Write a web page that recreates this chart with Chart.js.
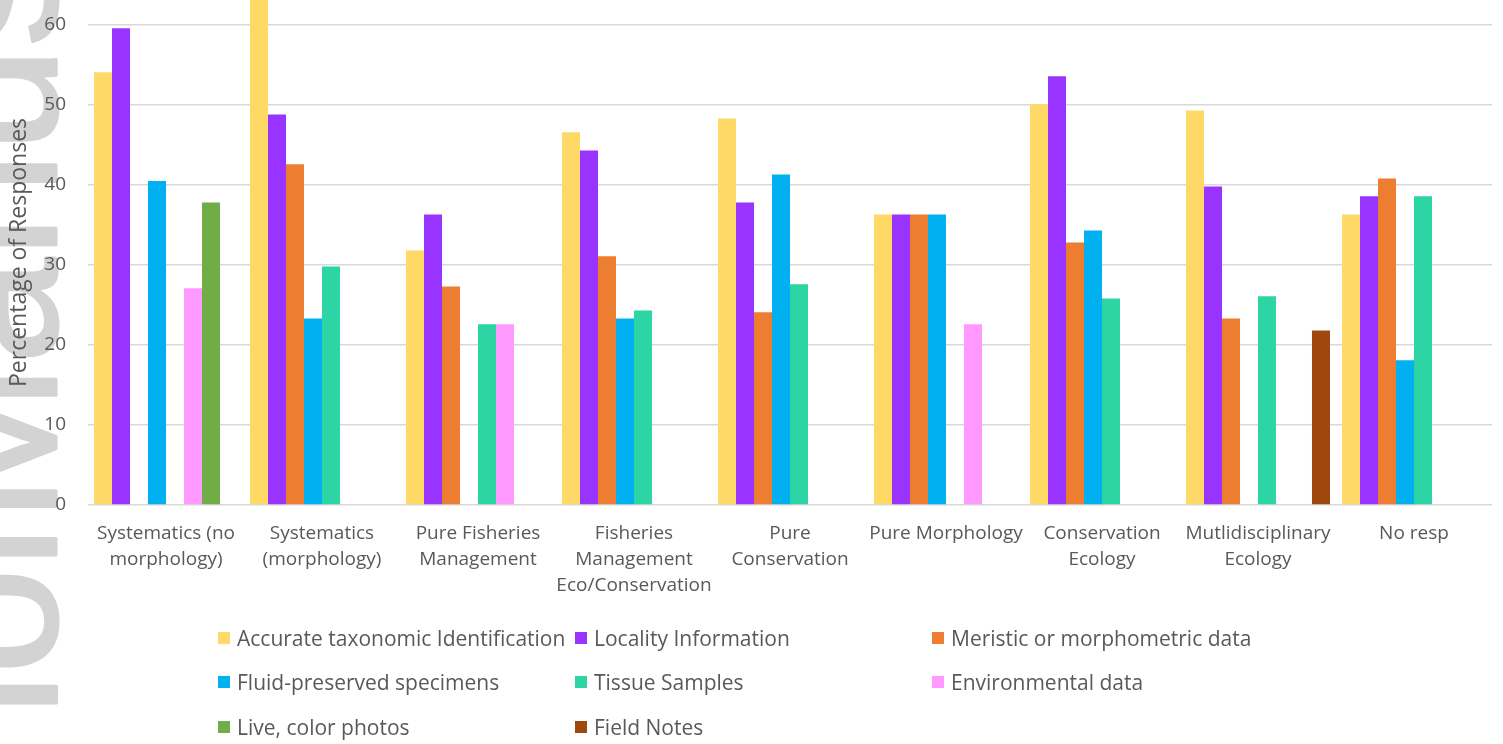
<!DOCTYPE html>
<html>
<head>
<meta charset="utf-8">
<script src="https://cdn.jsdelivr.net/npm/chart.js@4.4.1/dist/chart.umd.min.js"></script>
<style>
  html, body { margin: 0; padding: 0; background: #fff; }
  #wrap { position: relative; width: 1503px; height: 744px; overflow: hidden; }
  #legend { position: absolute; left: 0; top: 0; width: 100%; height: 100%; pointer-events: none; }
  .item { position: absolute; height: 26px; line-height: 26px; display: flex; align-items: center;
          font: 21px "Open Sans"; color: #595959; white-space: nowrap; }
  .item .box { width: 12px; height: 12px; margin-right: 7px; }
</style>
</head>
<body>
<div id="wrap">
  <canvas id="myChart" width="1503" height="744"></canvas>
  <div id="legend"></div>
</div>
<script>
// respondent groups along the x axis (multi-line labels)
const categories = [
  ['Systematics (no', 'morphology)'],
  ['Systematics', '(morphology)'],
  ['Pure Fisheries', 'Management'],
  ['Fisheries', 'Management', 'Eco/Conservation'],
  ['Pure', 'Conservation'],
  ['Pure Morphology'],
  ['Conservation', 'Ecology'],
  ['Mutlidisciplinary', 'Ecology'],
  ['No resp']
];

const seriesNames = [
  'Accurate taxonomic Identification',
  'Locality Information',
  'Meristic or morphometric data',
  'Fluid-preserved specimens',
  'Tissue Samples',
  'Environmental data',
  'Live, color photos',
  'Field Notes'
];

const seriesColors = ['#FFD966', '#9933FF', '#ED7D31', '#00B0F0', '#2DD4A4', '#FF99FF', '#70AD47', '#9E480E'];

// percentage of responses per group
const taxonomicId    = [54.1, 66.0, 31.8, 46.6, 48.3, 36.3, 50.1, 49.3, 36.3];
const localityInfo   = [59.6, 48.8, 36.3, 44.3, 37.8, 36.3, 53.6, 39.8, 38.6];
const meristicData   = [0, 42.6, 27.3, 31.1, 24.1, 36.3, 32.8, 23.3, 40.8];
const fluidSpecimens = [40.5, 23.3, 0, 23.3, 41.3, 36.3, 34.3, 0, 18.1];
const tissueSamples  = [0, 29.8, 22.6, 24.3, 27.6, 0, 25.8, 26.1, 38.6];
const environmental  = [27.1, 0, 22.6, 0, 0, 22.6, 0, 0, 0];
const livePhotos     = [37.8, 0, 0, 0, 0, 0, 0, 0, 0];
const fieldNotes     = [0, 0, 0, 0, 0, 0, 0, 21.8, 0];

const yTicks = [0, 10, 20, 30, 40, 50, 60];

const seriesValues = [taxonomicId, localityInfo, meristicData, fluidSpecimens,
                      tissueSamples, environmental, livePhotos, fieldNotes];

const textColor = '#595959';
const fontFamily = '"Open Sans", sans-serif';

// faint rotated "Author Manuscript" stamp behind the plot, each word placed on its own
const watermark = {
  id: 'watermark',
  beforeDraw(chart) {
    const ctx = chart.ctx;
    ctx.save();
    ctx.font = '190px "Liberation Sans"';
    ctx.fillStyle = '#d3d3d3';
    ctx.strokeStyle = '#d3d3d3';
    ctx.lineWidth = 3;
    ctx.lineJoin = 'round';
    const words = [['Author', 505 + ctx.measureText('Author').width], ['Manuscript', 522]];
    words.forEach(([word, y]) => {
      ctx.save();
      ctx.translate(56, y);
      ctx.rotate(-Math.PI / 2);
      ctx.fillText(word, 0, 0);
      ctx.strokeText(word, 0, 0);
      ctx.restore();
    });
    ctx.restore();
  }
};

const datasets = seriesNames.map((name, i) => ({
  label: name,
  data: seriesValues[i],
  backgroundColor: seriesColors[i],
  borderWidth: 0,
  categoryPercentage: 0.923,
  barPercentage: 1
}));

new Chart(document.getElementById('myChart').getContext('2d'), {
  type: 'bar',
  data: { labels: categories, datasets: datasets },
  plugins: [watermark],
  options: {
    responsive: false,
    animation: false,
    layout: { padding: { top: 0, right: 11, left: 0, bottom: 0 } },
    plugins: { legend: { display: false }, tooltip: { enabled: false } },
    scales: {
      x: {
        grid: { display: false },
        border: { display: false },
        ticks: {
          color: textColor,
          font: { family: fontFamily, size: 19, lineHeight: 1.37 },
          padding: 8,
          maxRotation: 0,
          autoSkip: false
        },
        afterFit: (scale) => { scale.height = 239; }
      },
      y: {
        min: 0,
        max: 63.125,
        bounds: 'data',
        afterBuildTicks: (scale) => { scale.ticks = yTicks.map(v => ({ value: v })); },
        ticks: { color: textColor, font: { family: fontFamily, size: 19 }, padding: 22 },
        grid: { color: '#d9d9d9', lineWidth: 1.5, drawTicks: false },
        border: { display: false },
        title: {
          display: true,
          text: 'Percentage of Responses',
          color: textColor,
          font: { family: fontFamily, size: 23 },
          padding: { top: 6, bottom: 0 }
        },
        afterFit: (scale) => { scale.width = 88; scale.paddingTop = 0; scale.paddingBottom = 0; }
      }
    }
  }
});

// legend laid out in three fixed columns
const legendBox = document.getElementById('legend');
const colX = [218, 575, 932];
const rowY = [638, 682, 727];
seriesNames.forEach((name, i) => {
  const item = document.createElement('div');
  item.className = 'item';
  item.style.left = colX[i % 3] + 'px';
  item.style.top = (rowY[Math.floor(i / 3)] - 13) + 'px';
  const box = document.createElement('span');
  box.className = 'box';
  box.style.background = seriesColors[i];
  item.appendChild(box);
  item.appendChild(document.createTextNode(name));
  legendBox.appendChild(item);
});
</script>
</body>
</html>
